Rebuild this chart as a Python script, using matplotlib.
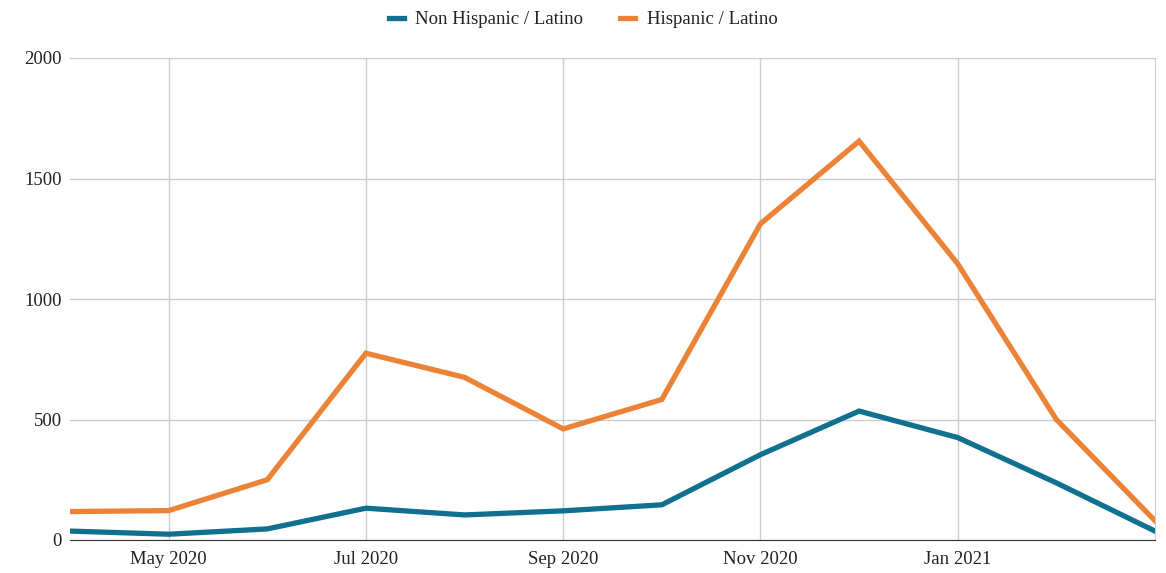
import matplotlib
matplotlib.use("Agg")
import matplotlib.pyplot as plt

months = ["Apr 2020", "May 2020", "Jun 2020", "Jul 2020", "Aug 2020", "Sep 2020",
          "Oct 2020", "Nov 2020", "Dec 2020", "Jan 2021", "Feb 2021", "Mar 2021"]
non_hispanic = [37, 24, 46, 132, 104, 121, 146, 354, 535, 425, 237, 37]
hispanic = [118, 122, 250, 775, 675, 461, 583, 1312, 1655, 1146, 500, 80]
tick_labels = ["May 2020", "Jul 2020", "Sep 2020", "Nov 2020", "Jan 2021"]
y_ticks = [0, 500, 1000, 1500, 2000]

plt.rcParams['font.family'] = ['Liberation Serif', 'DejaVu Serif']

fig = plt.figure(figsize=(11.66, 5.73), dpi=100)
ax = fig.add_axes([70/1166, 1-540/573, (1155-70)/1166, (540-58)/573])

x = list(range(len(months)))
l1, = ax.plot(x, non_hispanic, color="#10708f", lw=3.8, solid_joinstyle="miter",
              label="Non Hispanic / Latino", zorder=3)
l2, = ax.plot(x, hispanic, color="#eb8236", lw=3.8, solid_joinstyle="miter",
              label="Hispanic / Latino", zorder=3)

ax.set_xlim(0, len(months) - 1)
ax.set_ylim(0, 2000)
tick_pos = [months.index(t) for t in tick_labels]
ax.set_xticks(tick_pos)
ax.set_xticklabels(tick_labels)
ax.set_yticks(y_ticks)
ax.grid(True, color="#cccccc", lw=1)
ax.set_axisbelow(True)
for s in ["top", "left"]:
    ax.spines[s].set_visible(False)
ax.spines["right"].set_color("#cccccc")
ax.spines["bottom"].set_color("#333333")
ax.tick_params(length=0, labelsize=13.5, colors="#222222")
ax.tick_params(axis="x", pad=8)
ax.tick_params(axis="y", pad=6)

fig.legend(handles=[l1, l2], loc="upper center", bbox_to_anchor=(0.5, 1.01),
           ncol=2, frameon=False, fontsize=13.5, handlelength=0.8,
           handletextpad=0.6, columnspacing=2.0, labelcolor="#222222")

fig.savefig("out.png", dpi=100)
